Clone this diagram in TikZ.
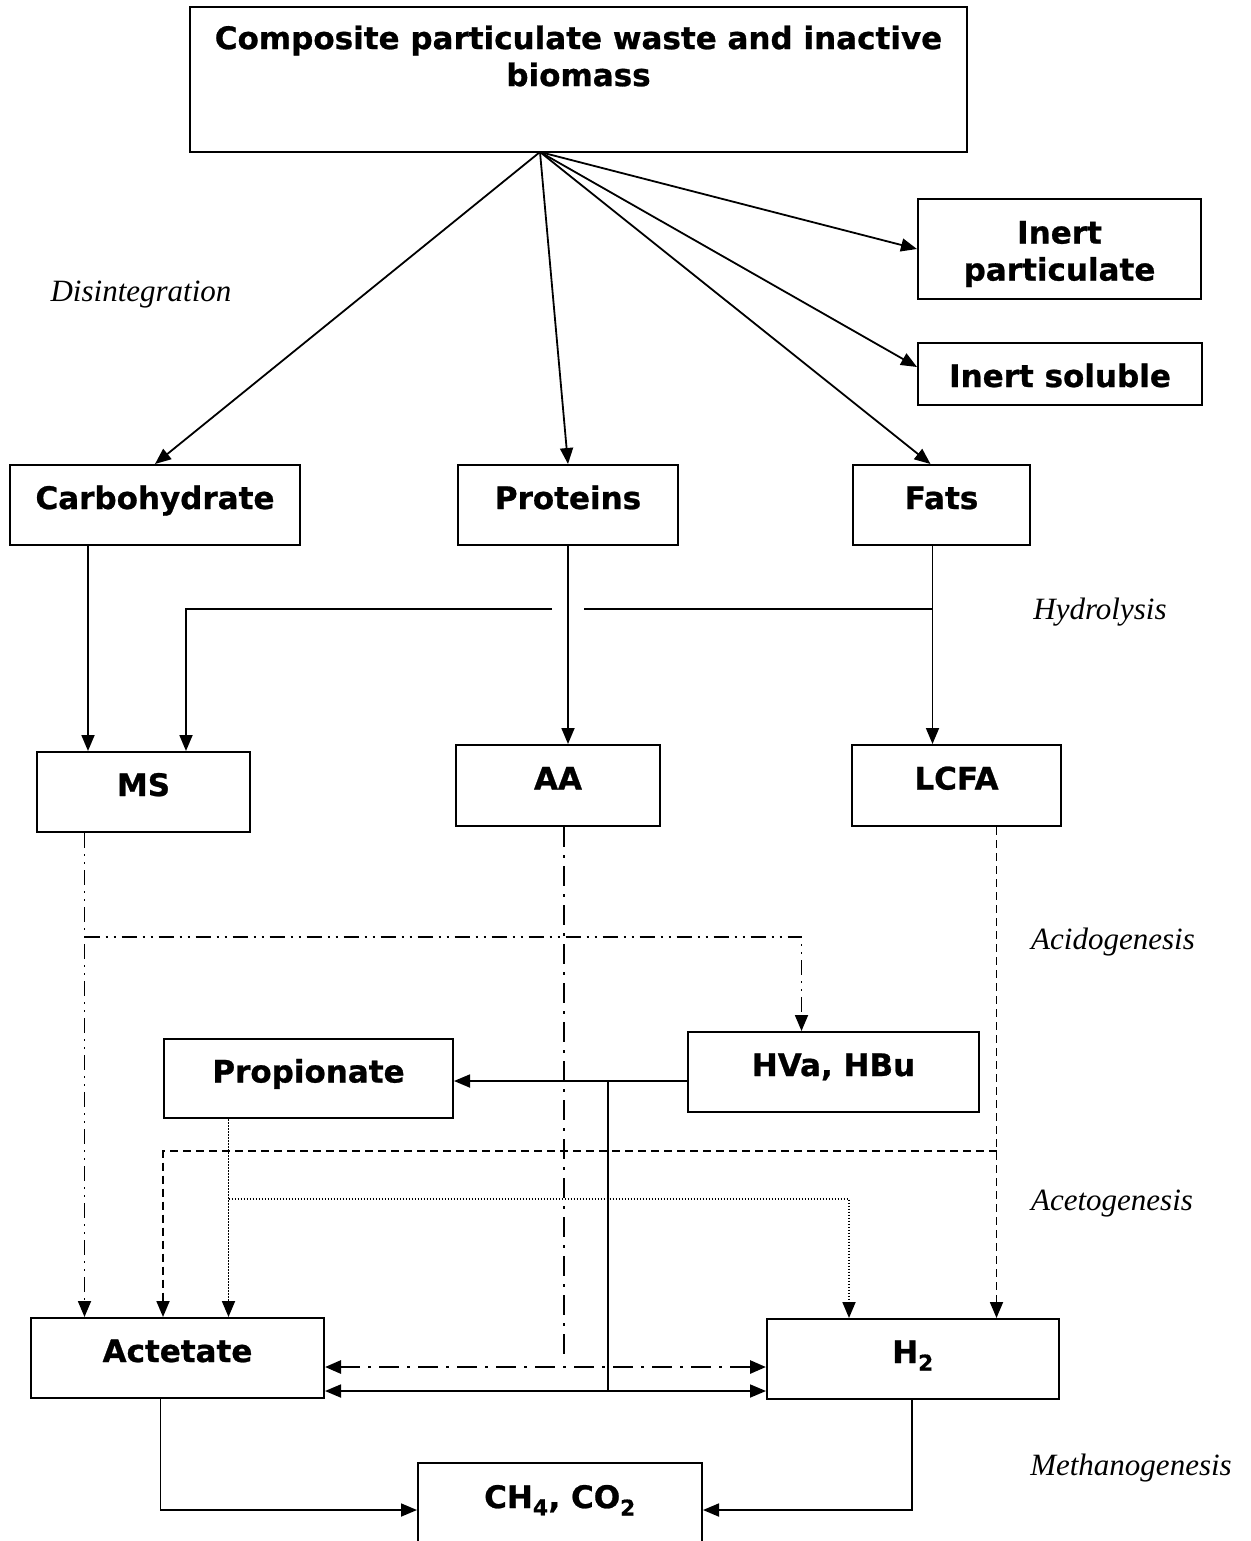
\documentclass[tikz,border=0pt]{standalone}
\usepackage{fontspec}
\setmainfont{DejaVu Sans}[BoldFeatures={FakeBold=0.8}]
\newfontfamily\stagefont{Liberation Serif}
\usetikzlibrary{arrows.meta,positioning,calc}

\begin{document}
\begin{tikzpicture}[x=1pt,y=-1pt,
    box/.style={rectangle, draw, line width=2pt, inner sep=0pt, font=\fontsize{31}{37}\selectfont\bfseries, text height=22pt, text depth=14pt},
    tallbox/.style={rectangle, draw, line width=2pt, inner sep=0pt, align=center, font=\fontsize{31}{37}\selectfont\bfseries},
    stage/.style={font=\fontsize{31}{36}\selectfont\stagefont\itshape},
    link/.style={line width=1.8pt, -{Triangle[length=16pt,width=13pt]}},
    twoway/.style={line width=1.8pt, {Triangle[length=16pt,width=13pt]}-{Triangle[length=16pt,width=13pt]}},
    msline/.style={line width=1.6pt, dash pattern=on 15pt off 6pt on 2pt off 6pt on 2pt off 6pt},
    aaline/.style={line width=2.8pt, dash pattern=on 20pt off 8pt on 3pt off 8pt},
    fatline/.style={line width=1.8pt, dash pattern=on 8pt off 5pt},
    propline/.style={line width=1.5pt, dash pattern=on 1.5pt off 1.5pt}
]
\useasboundingbox (0,0) rectangle (1250,1541);

% Substrate
\node[tallbox, minimum width=777pt, minimum height=145pt,
      label={[align=center, anchor=north, yshift=-16pt, font=\fontsize{31}{37}\selectfont\bfseries]north:{Composite particulate waste and inactive\\biomass}}]
      (waste) at (578.5,79.5) {};
\node[tallbox, minimum width=283pt, minimum height=100pt, label={[align=center, font=\fontsize{31}{37}\selectfont\bfseries, yshift=-5pt]center:{Inert\\particulate}}] (part) at (1059.5,249) {};
\node[box, minimum width=284pt, minimum height=62pt, text height=30pt, text depth=4pt] (sol) at (1060,374) {Inert soluble};

% Disintegration products
\node[box, minimum width=290pt, minimum height=80pt] (carb) at (155,505) {Carbohydrate};
\node[box, minimum width=220pt, minimum height=80pt] (prot) at (568,505) {Proteins};
\node[box, minimum width=177pt, minimum height=80pt] (fats) at (941.5,505) {Fats};

% Hydrolysis products
\node[box, minimum width=213pt, minimum height=80pt] (ms) at (143.5,792) {MS};
\node[box, minimum width=204pt, minimum height=81pt] (aa) at (558,785.5) {AA};
\node[box, minimum width=209pt, minimum height=81pt] (lcfa) at (956.5,785.5) {LCFA};

% Acids
\node[box, minimum width=289pt, minimum height=79pt] (prop) at (308.5,1078.5) {Propionate};
\node[box, minimum width=291pt, minimum height=80pt] (hva) at (833.5,1072) {HVa, HBu};
\node[box, minimum width=293pt, minimum height=80pt] (acet) at (177.5,1358) {Actetate};
\node[box, minimum width=292pt, minimum height=80pt] (htwo) at (913,1359) {H\textsubscript{2}};
\node[box, minimum width=284pt, minimum height=82pt] (gas) at (560,1504) {CH\textsubscript{4}, CO\textsubscript{2}};

% Stage labels
\node[stage] (disint) at (141,295) {Disintegration};
\node[stage] (hydro) at (1100,612) {Hydrolysis};
\node[stage] (acido) at (1113,942) {Acidogenesis};
\node[stage] (aceto) at (1112,1204) {Acetogenesis};
\node[stage] (methano) at (1131,1468) {Methanogenesis};

% Disintegration arrows
\coordinate (src) at (540,152);
\draw[link] (src) -- (carb.north);
\draw[link] (src) -- (prot.north);
\draw[link] (src) -- ([xshift=-11pt]fats.north);
\draw[link] (src) -- (part.west);
\draw[link] (src) -- ([yshift=7pt]sol.west);

% Hydrolysis arrows
\draw[link] ([xshift=-67pt]carb.south) -- ([xshift=-67pt]carb.south |- ms.north);
\draw[link] (prot.south) -- (prot.south |- aa.north);
\draw[link] ([xshift=-9pt]fats.south) -- ([xshift=-9pt]fats.south |- lcfa.north);
\coordinate (hydR) at (932.5,609);
\coordinate (gapR) at (584,609);
\coordinate (gapL) at (552,609);
\coordinate (hydL) at (186,609);
\draw[line width=1.8pt] (hydR) -- (gapR);
\draw[link] (gapL) -- (hydL) -- (hydL |- ms.north);

% Acidogenesis
\draw[msline, link] ([xshift=-59pt]ms.south) -- ([xshift=-59pt]ms.south |- acet.north);
\coordinate (acidL) at (84.5,937);
\draw[msline, link] (acidL) -| ([xshift=-32pt]hva.north);
\coordinate (aaEnd) at (564,1357);
\draw[aaline] ([xshift=6pt]aa.south) -- (aaEnd);
\draw[fatline, link] ([xshift=40pt]lcfa.south) -- ([xshift=40pt]lcfa.south |- htwo.north);

% Acetogenesis
\draw[link] ([yshift=-9pt]hva.west) -- ([yshift=-9pt]hva.west -| prop.east);
\coordinate (hvaJ) at (608,1081);
\draw[line width=1.8pt] (hvaJ) -- (hvaJ |- 0,1391);
\coordinate (lcfaJ) at (996.5,1151);
\draw[fatline, link] (lcfaJ) -| ([xshift=-14.5pt]acet.north);
\draw[propline, link] ([xshift=-80pt]prop.south) -- ([xshift=-80pt]prop.south |- acet.north);
\coordinate (propJ) at (228.5,1199);
\draw[propline, link] (propJ) -| ([xshift=-64pt]htwo.north);
\draw[twoway] ([yshift=-33pt]acet.east) -- ([yshift=-33pt]acet.east -| htwo.west);
\draw[twoway, aaline] ([yshift=-9pt]acet.east) -- ([yshift=-9pt]acet.east -| htwo.west);

% Methanogenesis
\draw[link] ([xshift=-17pt]acet.south) |- ([yshift=-6pt]gas.west);
\draw[link] ([xshift=-1pt]htwo.south) |- ([yshift=-6pt]gas.east);

\end{tikzpicture}
\end{document}
